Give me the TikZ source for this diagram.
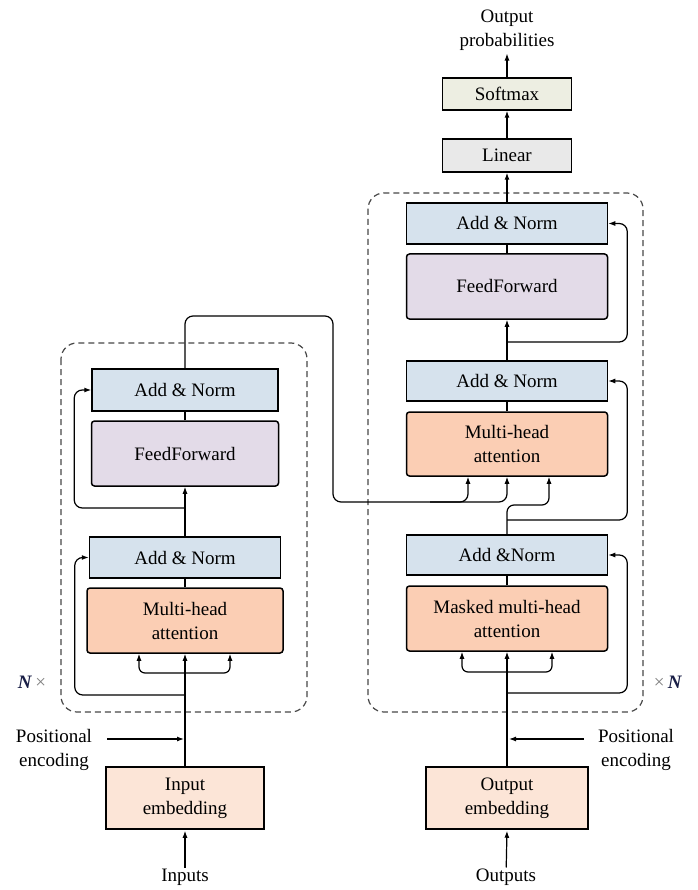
\documentclass[tikz,border=0pt]{standalone}
\usepackage{fontspec}
\setmainfont{Liberation Serif}
\usetikzlibrary{arrows.meta}
\definecolor{normblue}{RGB}{214,226,237}
\definecolor{ffpurple}{RGB}{227,219,232}
\definecolor{attorange}{RGB}{251,206,180}
\definecolor{embpeach}{RGB}{252,229,215}
\definecolor{softgreen}{RGB}{237,238,226}
\definecolor{lingray}{RGB}{233,233,233}
\definecolor{nblue}{RGB}{25,30,70}
\newcommand\timesmark{{\color{gray}×}}
\tikzset{
  blk/.style={draw, line width=1.5pt, align=center, inner sep=2pt},
  addnorm/.style={blk, fill=normblue},
  ffbox/.style={blk, fill=ffpurple, rounded corners=3pt},
  attbox/.style={blk, fill=attorange, rounded corners=3pt},
  embbox/.style={blk, fill=embpeach},
  softbox/.style={blk, fill=softgreen},
  linbox/.style={blk, fill=lingray},
  lbl/.style={align=center, inner sep=1pt},
  wire/.style={line width=1.2pt},
  arr/.style={wire, -{Latex[length=7pt,width=5pt]}},
  dashbox/.style={dash pattern=on 6pt off 4pt, line width=1.2pt, black!72, rounded corners=16pt},
}
\begin{document}
\begin{tikzpicture}[x=1pt, y=-1pt, font=\fontsize{19}{24}\selectfont]
  \useasboundingbox (0,0) rectangle (697,890);
  \draw[dashbox] (61,343) rectangle (307,712);
  \draw[dashbox] (368,193) rectangle (643,712);
  \foreach \nm/\xc/\yc/\bw/\bh/\sty/\txt in {
    encAN2/185/390/186/42/addnorm/{Add \& Norm},
    encFF/185/453.5/187/65/ffbox/FeedForward,
    encAN1/185/557.5/191/41/addnorm/{Add \& Norm},
    encMHA/185/620.5/196/65/attbox/{Multi-head\\attention},
    inEmb/185/798/158/62/embbox/{Input\\embedding},
    softmax/507/94/129/32/softbox/Softmax,
    linear/507/155.5/129/33/linbox/Linear,
    decAN3/507/223.5/201/41/addnorm/{Add \& Norm},
    decFF/507/286.5/201/65/ffbox/FeedForward,
    decAN2/507/381/201/40/addnorm/{Add \& Norm},
    decMHA/507/444/201/64/attbox/{Multi-head\\attention},
    decAN1/507/555/201/40/addnorm/{Add \&Norm},
    decMMHA/507/618.5/201/65/attbox/{Masked multi-head\\attention},
    outEmb/507/798/162/62/embbox/{Output\\embedding}}
  {
    \node[\sty, minimum width=\bw, minimum height=\bh] (\nm) at (\xc,\yc) {\txt};
  }
  \node[lbl] (outProb) at (507,30) {Output\\probabilities};
  \node[lbl] (inputs) at (185,877) {Inputs};
  \node[lbl] (outputs) at (506,877) {Outputs};
  \node[lbl] (posL) at (54,750) {Positional\\encoding};
  \node[lbl] (posR) at (636,750) {Positional\\encoding};
  \node[lbl] (encN) at (32,682) {\textcolor{nblue}{\textbf{\textit{N}}}\,\timesmark};
  \node[lbl] (decN) at (668,682) {\timesmark\,\textcolor{nblue}{\textbf{\textit{N}}}};

  \coordinate (encPE) at (184,739);
  \coordinate (encSplit) at (185,673);
  \coordinate (encRes1) at (185,695);
  \coordinate (encRes2) at (185,508);
  \coordinate (encTop) at (333,316);
  \coordinate (encOut) at (333,502);
  \coordinate (encFork) at (430,502);
  \draw[arr, shorten >=1pt] (inputs) -- (inEmb.south);
  \draw[arr] (inEmb.north) -- (encMHA.south);
  \draw[arr, shorten <=14pt] (posL.east |- encPE) -- (encPE);
  \draw[arr, rounded corners=6pt] (encSplit) -| ([xshift=-46pt]encMHA.south);
  \draw[arr, rounded corners=6pt] (encSplit) -| ([xshift=45pt]encMHA.south);
  \draw[arr, rounded corners=8pt] (encRes1) -| ([xshift=-14pt]encAN1.west) -- (encAN1.west);
  \draw[wire] (encMHA.north) -- (encAN1.south);
  \draw[arr] (encAN1.north) -- (encFF.south);
  \draw[arr, rounded corners=8pt] (encRes2) -| ([xshift=-17pt]encAN2.west) -- (encAN2.west);
  \draw[wire] (encFF.north) -- (encAN2.south);
  \draw[arr, rounded corners=8pt] (encAN2.north) |- (encTop) -- (encOut) -| ([xshift=-39pt]decMHA.south);
  \draw[arr, rounded corners=8pt] (encFork) -| (decMHA.south);

  \coordinate (decPE) at (509,739);
  \coordinate (decSplit) at (507,672);
  \coordinate (decRes1) at (507,693);
  \coordinate (decRes2) at (507,520);
  \coordinate (decKnee) at (549,505);
  \coordinate (decRes3) at (507,342);
  \draw[arr, shorten >=1pt] (outputs) -- (outEmb.south);
  \draw[arr] (outEmb.north) -- (decMMHA.south);
  \draw[arr, shorten <=13pt] (posR.west |- decPE) -- (decPE);
  \draw[arr, rounded corners=6pt] (decSplit) -| ([xshift=-45pt]decMMHA.south);
  \draw[arr, rounded corners=6pt] (decSplit) -| ([xshift=45pt]decMMHA.south);
  \draw[arr, rounded corners=8pt] (decRes1) -| ([xshift=19pt]decAN1.east) -- (decAN1.east);
  \draw[wire] (decMMHA.north) -- (decAN1.south);
  \draw[arr, rounded corners=7pt] (decAN1.north) |- (decKnee) -- ([xshift=42pt]decMHA.south);
  \draw[arr, rounded corners=8pt] (decRes2) -| ([xshift=19pt]decAN2.east) -- (decAN2.east);
  \draw[wire] (decMHA.north) -- (decAN2.south);
  \draw[arr] (decAN2.north) -- (decFF.south);
  \draw[arr, rounded corners=8pt] (decRes3) -| ([xshift=19pt]decAN3.east) -- (decAN3.east);
  \draw[wire] (decFF.north) -- (decAN3.south);
  \draw[arr] (decAN3.north) -- (linear.south);
  \draw[arr] (linear.north) -- (softmax.south);
  \draw[arr, shorten >=2pt] (softmax.north) -- (outProb.south);
\end{tikzpicture}
\end{document}
